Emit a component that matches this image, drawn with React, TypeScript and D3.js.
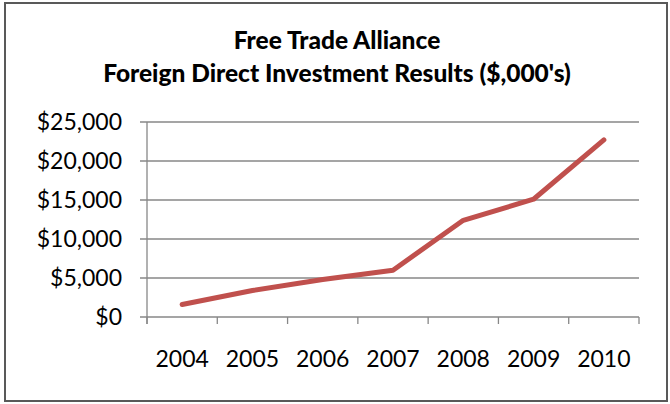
import React from "react";
import * as d3 from "d3";

const years = ["2004", "2005", "2006", "2007", "2008", "2009", "2010"];
const values = [1600, 3400, 4800, 6000, 12400, 15100, 22700];
const yTicks = [0, 5000, 10000, 15000, 20000, 25000];
const titleLines = ["Free Trade Alliance", "Foreign Direct Investment Results ($,000's)"];

const W = 670;
const H = 404;
const FONT = "Lato, 'Open Sans', sans-serif";

export default function App() {
  const x = d3.scaleBand<string>().domain(years).range([147, 639]);
  const y = d3.scaleLinear().domain([0, 25000]).range([317, 122]);
  const line = d3
    .line<number>()
    .x((_, i) => (x(years[i]) as number) + x.bandwidth() / 2)
    .y((d) => y(d));
  const fmt = (v: number) => "$" + d3.format(",")(v);
  const grid = "#878787";
  const boundaries = years.map((yr) => x(yr) as number).concat([x.range()[1]]);

  return (
    <svg
      width={W}
      height={H}
      style={{ position: "absolute", left: 0, top: 0, display: "block" }}
      fontFamily={FONT}
    >
      <rect x={0} y={0} width={W} height={H} fill="#fff" />
      <rect x={5} y={3} width={662} height={398} fill="#fff" stroke="#595959" strokeWidth={2} />
      {titleLines.map((t, i) => (
        <text
          key={t}
          x={337}
          y={48.5 + i * 33}
          textAnchor="middle"
          fontWeight="900"
          fontSize={24.5}
          fill="#000"
        >
          {t}
        </text>
      ))}
      {yTicks.map((t) => (
        <g key={t}>
          <line x1={140} x2={639} y1={y(t)} y2={y(t)} stroke={grid} strokeWidth={1.3} />
          <text x={122} y={y(t)} dy="0.35em" textAnchor="end" fontSize={23} fill="#000">
            {fmt(t)}
          </text>
        </g>
      ))}
      <line x1={147} x2={147} y1={y(25000)} y2={324} stroke={grid} strokeWidth={1.3} />
      {boundaries.map((bx, i) => (
        <line key={i} x1={bx} x2={bx} y1={317} y2={324} stroke={grid} strokeWidth={1.3} />
      ))}
      {years.map((yr) => (
        <text
          key={yr}
          x={(x(yr) as number) + x.bandwidth() / 2}
          y={367}
          textAnchor="middle"
          fontSize={23}
          fill="#000"
        >
          {yr}
        </text>
      ))}
      <path
        d={line(values) || ""}
        fill="none"
        stroke="#C0504D"
        strokeWidth={5}
        strokeLinecap="round"
        strokeLinejoin="round"
      />
    </svg>
  );
}
